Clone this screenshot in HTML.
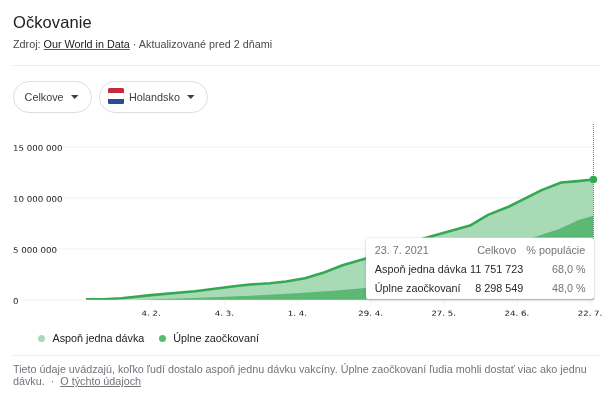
<!DOCTYPE html>
<html lang="sk">
<head>
<meta charset="utf-8">
<title>Očkovanie</title>
<style>
html,body{margin:0;padding:0;background:#fff;}
body{width:616px;height:405px;position:relative;overflow:hidden;font-family:"Liberation Sans",Arial,sans-serif;color:#202124;}
.abs{position:absolute;white-space:nowrap;}
.title{left:13px;top:11.5px;font-size:16.5px;letter-spacing:0.08px;line-height:20px;color:#202124;}
.sub{left:13px;top:36.5px;font-size:10.8px;line-height:14px;color:#474b4f;}
.sub a{color:#202124;text-decoration:underline;text-decoration-color:rgba(32,33,36,.75);}
.hr{position:absolute;left:13px;width:587px;height:1px;background:#eaebec;}
.pill{position:absolute;top:81px;height:30px;border:1px solid #dcdee1;border-radius:16px;background:#fff;}
.pill span{position:absolute;font-size:10.8px;line-height:14px;color:#3c4043;white-space:nowrap;}
.arrow{position:absolute;width:0;height:0;border-left:4px solid transparent;border-right:4px solid transparent;border-top:4px solid #3c4043;}
.flag{position:absolute;left:108px;top:88px;width:16px;height:16px;border-radius:1.5px;overflow:hidden;background:#fff;box-shadow:inset 0 0 0 0.5px rgba(0,0,0,.12);}
.flag i{display:block;}
.leg{font-size:10.8px;line-height:14px;color:#202124;}
.dot{position:absolute;width:7px;height:7px;border-radius:50%;}
.foot{position:absolute;left:13px;top:363px;width:590px;font-size:10.78px;line-height:12px;color:#70757a;}
.foot a{color:#70757a;text-decoration:underline;}
.tip{position:absolute;left:366px;top:238px;width:228.2px;height:61.2px;background:#fff;border-radius:2px;box-shadow:0 1px 3px rgba(60,64,67,.22),0 0 2px rgba(60,64,67,.14);}
.tip span{position:absolute;font-size:10.8px;line-height:14px;white-space:nowrap;}
.g{color:#70757a;}
.d{color:#28292c;}
svg text{font-family:"DejaVu Sans",sans-serif;font-size:7.7px;fill:#202124;}
</style>
</head>
<body>
<div class="abs title">Očkovanie</div>
<div class="abs sub">Zdroj: <a>Our World in Data</a> · Aktualizované pred 2 dňami</div>
<div class="hr" style="top:65px"></div>

<div class="pill" style="left:13px;width:77px;"><span style="left:10.6px;top:8px;">Celkove</span></div>
<svg class="abs" style="left:71.1px;top:94.5px" width="8" height="5"><path d="M0,0 L7.5,0 L3.75,4 Z" fill="#3c4043"/></svg>
<div class="pill" style="left:99px;width:107px;"><span style="left:28.9px;top:8px;">Holandsko</span></div>
<div class="flag"><i style="background:#c42b3b;height:5px"></i><i style="background:transparent;height:5.7px"></i><i style="background:#2a4b96;height:5.3px"></i></div>
<svg class="abs" style="left:186.6px;top:94.5px" width="8" height="5"><path d="M0,0 L7.5,0 L3.75,4 Z" fill="#3c4043"/></svg>

<svg class="abs" style="left:0;top:0" width="616" height="405" viewBox="0 0 616 405">
  <defs><clipPath id="cp"><rect x="0" y="100" width="616" height="199.8"/></clipPath></defs>
  <g stroke="#f8f8f8" stroke-width="2">
    <line x1="62" x2="594" y1="147" y2="147"/>
    <line x1="62" x2="594" y1="198" y2="198"/>
    <line x1="55" x2="594" y1="249" y2="249"/>
    <line x1="22" x2="594" y1="300" y2="300"/>
  </g>
  <g stroke="#f2f3f5" stroke-width="1">
    <line x1="151.5" x2="151.5" y1="300.3" y2="306.6"/>
    <line x1="224.7" x2="224.7" y1="300.3" y2="306.6"/>
    <line x1="297.8" x2="297.8" y1="300.3" y2="306.6"/>
    <line x1="371" x2="371" y1="300.3" y2="306.6"/>
    <line x1="444.1" x2="444.1" y1="300.3" y2="306.6"/>
    <line x1="517.3" x2="517.3" y1="300.3" y2="306.6"/>
    <line x1="590.4" x2="590.4" y1="300.3" y2="306.6"/>
  </g>
  <path d="M86,299.3 L104,299.2 L121.5,298.3 L151,295.1 L195,291.3 L234,286.3 L250,284.55 L270,283.3 L286,281.55 L305,278.3 L324,272.5 L342.5,265.3 L365,258.8 L424.4,238.2 L470,225.6 L488.5,214.6 L508.5,206.8 L542.2,189.9 L561.3,182.5 L577.8,181.1 L593.3,179.5 L593.3,299.8 L86,299.8 Z" fill="#a8dab5"/>
  <path d="M134,299.7 L180,298.5 L220,297 L260,295.2 L300,293 L340,290.2 L365,288 L440,275 L500,252 L533,237.4 L550,232 L558,229.4 L568,225 L578.5,220 L593.3,215.7 L593.3,299.8 L134,299.8 Z" fill="#5bb974"/>
  <path d="M86,299.3 L104,299.2 L121.5,298.3 L151,295.1 L195,291.3 L234,286.3 L250,284.55 L270,283.3 L286,281.55 L305,278.3 L324,272.5 L342.5,265.3 L365,258.8 L424.4,238.2 L470,225.6 L488.5,214.6 L508.5,206.8 L542.2,189.9 L561.3,182.5 L577.8,181.1 L593.3,179.5" clip-path="url(#cp)" fill="none" stroke="#34a853" stroke-width="2.6" stroke-linejoin="round" stroke-linecap="butt"/>
  <line x1="593.4" x2="593.4" y1="124" y2="300" stroke="#70757a" stroke-width="1" stroke-dasharray="1,1"/>
  <circle cx="593.4" cy="179.5" r="3.75" fill="#34a853"/>
  <text transform="translate(13.1,150.85) rotate(0.03) scale(1.125,0.99)" text-anchor="start">15 000 000</text>
  <text transform="translate(13.1,201.85) rotate(0.03) scale(1.125,0.99)" text-anchor="start">10 000 000</text>
  <text transform="translate(13.1,252.85) rotate(0.03) scale(1.125,0.99)" text-anchor="start">5 000 000</text>
  <text transform="translate(13.1,303.85) rotate(0.03) scale(1.125,0.99)" text-anchor="start">0</text>
  <text transform="translate(151.1,315.7) rotate(0.03) scale(1.12,0.91)" text-anchor="middle" stroke="#202124" stroke-width="0.04">4. 2.</text>
  <text transform="translate(224.3,315.7) rotate(0.03) scale(1.12,0.91)" text-anchor="middle" stroke="#202124" stroke-width="0.04">4. 3.</text>
  <text transform="translate(297.4,315.7) rotate(0.03) scale(1.12,0.91)" text-anchor="middle" stroke="#202124" stroke-width="0.04">1. 4.</text>
  <text transform="translate(370.6,315.7) rotate(0.03) scale(1.12,0.91)" text-anchor="middle" stroke="#202124" stroke-width="0.04">29. 4.</text>
  <text transform="translate(443.7,315.7) rotate(0.03) scale(1.12,0.91)" text-anchor="middle" stroke="#202124" stroke-width="0.04">27. 5.</text>
  <text transform="translate(516.9,315.7) rotate(0.03) scale(1.12,0.91)" text-anchor="middle" stroke="#202124" stroke-width="0.04">24. 6.</text>
  <text transform="translate(590,315.7) rotate(0.03) scale(1.12,0.91)" text-anchor="middle" stroke="#202124" stroke-width="0.04">22. 7.</text>
</svg>

<div style="position:absolute;left:366px;top:299px;width:228px;height:1px;background:rgba(255,255,255,.45)"></div>
<div style="position:absolute;left:367px;top:237px;width:226px;height:1px;background:rgba(255,255,255,.4)"></div>
<div class="tip">
  <span class="g" style="left:8.8px;top:5px;">23. 7. 2021</span>
  <span class="g" style="right:78px;top:5px;">Celkovo</span>
  <span class="g" style="right:9px;top:5px;">% populácie</span>
  <span class="d" style="left:8.8px;top:23.5px;">Aspoň jedna dávka</span>
  <span class="d" style="right:71px;top:23.5px;">11 751 723</span>
  <span class="g" style="right:8.7px;top:23.5px;">68,0 %</span>
  <span class="d" style="left:8.8px;top:42.8px;">Úplne zaočkovaní</span>
  <span class="d" style="right:71px;top:42.8px;">8 298 549</span>
  <span class="g" style="right:8.7px;top:42.8px;">48,0 %</span>
</div>

<div class="dot" style="left:38.25px;top:334.75px;background:#a8dab5"></div>
<div class="abs leg" style="left:52.5px;top:331px;">Aspoň jedna dávka</div>
<div class="dot" style="left:159px;top:334.75px;background:#5bb974"></div>
<div class="abs leg" style="left:173.2px;top:331px;">Úplne zaočkovaní</div>
<div class="hr" style="top:355px"></div>
<div class="foot">Tieto údaje uvádzajú, koľko ľudí dostalo aspoň jednu dávku vakcíny. Úplne zaočkovaní ľudia mohli dostať viac ako jednu dávku. &nbsp;·&nbsp; <a>O týchto údajoch</a></div>
</body>
</html>
